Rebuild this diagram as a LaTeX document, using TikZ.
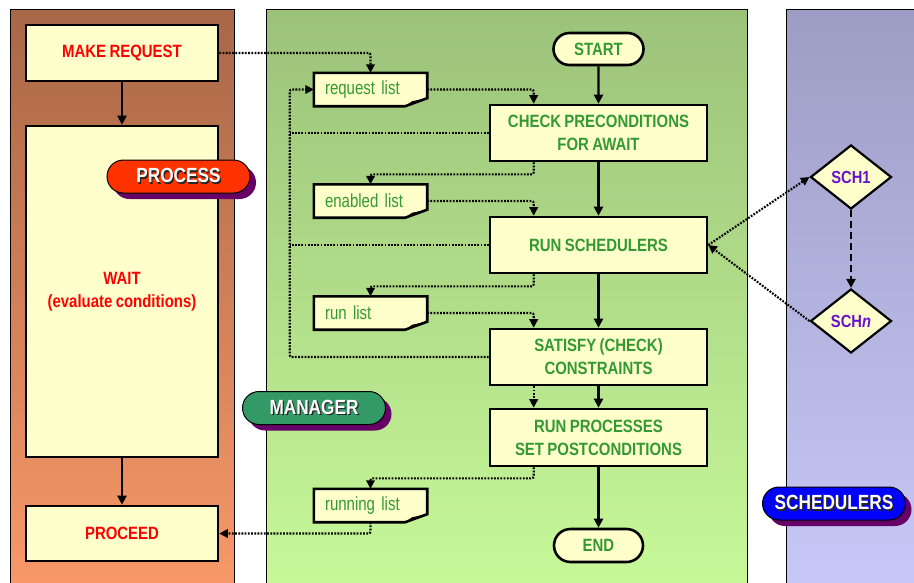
\documentclass[tikz,border=0pt]{standalone}
\usepackage{fontspec}
\setmainfont[FakeStretch=0.84,WordSpace=0.8]{Liberation Sans}
\newfontfamily\notefont[FakeStretch=0.79,WordSpace=0.5]{Liberation Sans}
\usetikzlibrary{arrows.meta,shapes.geometric,shapes.misc,shadows,backgrounds}

\definecolor{boxfill}{HTML}{FFFFCC}
\definecolor{txtred}{HTML}{FF0000}
\definecolor{txtgreen}{HTML}{339933}
\definecolor{txtpurple}{HTML}{6A10CC}
\definecolor{badgered}{HTML}{FF3300}
\definecolor{badgegreen}{HTML}{339966}
\definecolor{badgeblue}{HTML}{0000FF}
\definecolor{shadowpurple}{HTML}{660066}
\definecolor{procTop}{HTML}{A86747}
\definecolor{procBot}{HTML}{F89868}
\definecolor{mgrTop}{HTML}{9CC27A}
\definecolor{mgrBot}{HTML}{C6F898}
\definecolor{schTop}{HTML}{9C9CC4}
\definecolor{schBot}{HTML}{C8C8F8}

\pgfdeclarelayer{panels}
\pgfsetlayers{panels,background,main}

% white lettering with a dark drop shadow
\newcommand\badgetext[1]{\makebox[0pt][l]{\hspace{1.3pt}\raisebox{-1.3pt}{\color{black!85}#1}}{\color{white}#1}}

% note outline with a folded bottom-right corner, drawn behind a named node
\newcommand\notepaper[1]{%
  \begin{pgfonlayer}{background}
    \filldraw[fill=boxfill,draw=black,line width=2.6pt,line join=miter]
      (#1.north west) -- (#1.north east) -- ([yshift=8pt]#1.south east)
      -- ([xshift=-22pt]#1.south east) -- (#1.south west) -- cycle;
    \fill ([xshift=-22pt]#1.south east) -- ([xshift=-15pt,yshift=5pt]#1.south east)
      -- ([yshift=8pt]#1.south east) -- cycle;
  \end{pgfonlayer}}

\begin{document}
\begin{tikzpicture}[x=1pt,y=-1pt,
  boxbase/.style={draw=black,fill=boxfill,line width=2.6pt,inner sep=0pt,align=center,
    font=\bfseries\fontsize{17.8}{23}\selectfont},
  procbox/.style={boxbase,rectangle,minimum width=192pt,text=txtred},
  mgrbox/.style={boxbase,rectangle,minimum width=217pt,minimum height=56pt,text=txtgreen},
  terminal/.style={boxbase,rounded rectangle,minimum width=90pt,minimum height=32pt,text=txtgreen},
  listnote/.style={rectangle,minimum width=113pt,minimum height=33pt,inner xsep=11pt,inner ysep=0pt,
    text width=91pt,align=left,text=txtgreen,font=\notefont\fontsize{19}{21}\selectfont},
  schdiamond/.style={diamond,aspect=1.27,minimum width=81pt,minimum height=64pt,inner sep=0pt,
    draw=black,fill=boxfill,line width=2.2pt,text=txtpurple,font=\bfseries\fontsize{17.5}{20}\selectfont},
  badge/.style={rounded rectangle,minimum width=143pt,minimum height=33pt,inner sep=0pt,
    draw=black,line width=1pt,font=\bfseries\fontsize{20.5}{22}\selectfont,
    drop shadow={shadow xshift=6pt,shadow yshift=-6pt,fill=shadowpurple,opacity=1}},
  flow/.style={line width=2.2pt,-{Triangle[length=9pt,width=9pt]}},
  dotflow/.style={line width=2.1pt,dash pattern=on 1.8pt off 1.4pt,rounded corners=2pt,
    -{Triangle[length=8.5pt,width=8.5pt]}},
  dotlink/.style={line width=2.1pt,dash pattern=on 1.8pt off 1.4pt},
  dashflow/.style={line width=2.2pt,dash pattern=on 7pt off 4pt,-{Triangle[length=9pt,width=9pt]}}
]
\useasboundingbox (0,0) rectangle (914,582);

% ---- swim lanes ----
\begin{pgfonlayer}{panels}
  \fill[white] (0,0) rectangle (914,582);
  \shade[top color=procTop,bottom color=procBot] (10,9) rectangle (234,583);
  \draw[line width=0.8pt] (10,583) -- (10,9) -- (234,9) -- (234,583);
  \shade[top color=mgrTop,bottom color=mgrBot] (266,9) rectangle (747,583);
  \draw[line width=0.8pt] (266,583) -- (266,9) -- (747,9) -- (747,583);
  \shade[top color=schTop,bottom color=schBot] (786,9) rectangle (916,583);
  \draw[line width=0.8pt] (786,583) -- (786,9) -- (916,9);
\end{pgfonlayer}

% ---- process lane ----
\node[procbox,minimum height=56pt] (makereq) at (122,53) {MAKE REQUEST};
\node[procbox,minimum height=331pt] (wait) at (122,291.5) {WAIT\\(evaluate conditions)};
\node[procbox,minimum height=55pt] (proceed) at (122,533.5) {PROCEED};

% ---- manager lane ----
\node[terminal] (start) at (598.5,49) {START};
\node[mgrbox] (check) at (598.5,133) {CHECK PRECONDITIONS\\FOR AWAIT};
\node[mgrbox] (runsch) at (598.5,245) {RUN SCHEDULERS};
\node[mgrbox] (satisfy) at (598.5,357) {SATISFY (CHECK)\\CONSTRAINTS};
\node[mgrbox,minimum height=57pt] (runproc) at (598.5,437.5) {RUN PROCESSES\\SET POSTCONDITIONS};
\node[terminal,minimum width=89pt,minimum height=33pt] (finish) at (598.5,545.5) {END};

\node[listnote] (reqlist) at (370.5,89.5) {request list};
\node[listnote] (enlist) at (370.5,201) {enabled list};
\node[listnote] (runlist) at (370.5,313) {run list};
\node[listnote] (runninglist) at (370.5,505.5) {running list};
\notepaper{reqlist}
\notepaper{enlist}
\notepaper{runlist}
\notepaper{runninglist}

% ---- schedulers lane ----
\node[schdiamond] (sch1) at (851,177) {SCH1};
\node[schdiamond] (schn) at (851,321) {SCH\textit{n}};

% ---- lane badges ----
\node[badge,fill=badgered] (bproc) at (178.5,176.5) {\badgetext{PROCESS}};
\node[badge,fill=badgegreen] (bmgr) at (314,408) {\badgetext{MANAGER}};
\node[badge,fill=badgeblue] (bsch) at (834,503.5) {\badgetext{SCHEDULERS}};

% ---- control flow ----
\draw[flow] (makereq) -- (wait);
\draw[flow] (wait) -- (proceed);
\draw[flow] (start) -- (check);
\draw[flow] (check) -- (runsch);
\draw[flow] (runsch) -- (satisfy);
\draw[flow] (satisfy) -- (runproc);
\draw[flow] (runproc) -- (finish);

% ---- data flow through the lists ----
\draw[dotflow] (makereq.east) -| (reqlist.north);
\draw[dotflow] (reqlist.east) -| ([xshift=45pt]check.north west);
\draw[dotflow] ([xshift=45pt]check.south west) -- ++(0,12) -| (enlist.north);
\draw[dotflow] (enlist.east) -| ([xshift=45pt]runsch.north west);
\draw[dotflow] ([xshift=45pt]runsch.south west) -- ++(0,12) -| (runlist.north);
\draw[dotflow] (runlist.east) -| ([xshift=45pt]satisfy.north west);
\draw[dotflow] ([xshift=45pt]satisfy.south west) -- ([xshift=45pt]runproc.north west);
\draw[dotflow] ([xshift=45pt]runproc.south west) -- ++(0,11) -| (runninglist.north);
\draw[dotflow] (runninglist.south) |- (proceed.east);

% feedback into the request list
\coordinate (loop) at ([xshift=-199pt]satisfy.west);
\draw[dotflow] (satisfy.west) -- (loop) |- (reqlist.west);
\draw[dotlink] (check.west) -- (check.west -| loop);
\draw[dotlink] (runsch.west) -- (runsch.west -| loop);

% scheduler calls
\draw[dotflow] (runsch.east) -- (sch1.west);
\draw[dotflow] (schn.west) -- (runsch.east);
\draw[dashflow] (sch1.south) -- (schn.north);
\end{tikzpicture}
\end{document}
